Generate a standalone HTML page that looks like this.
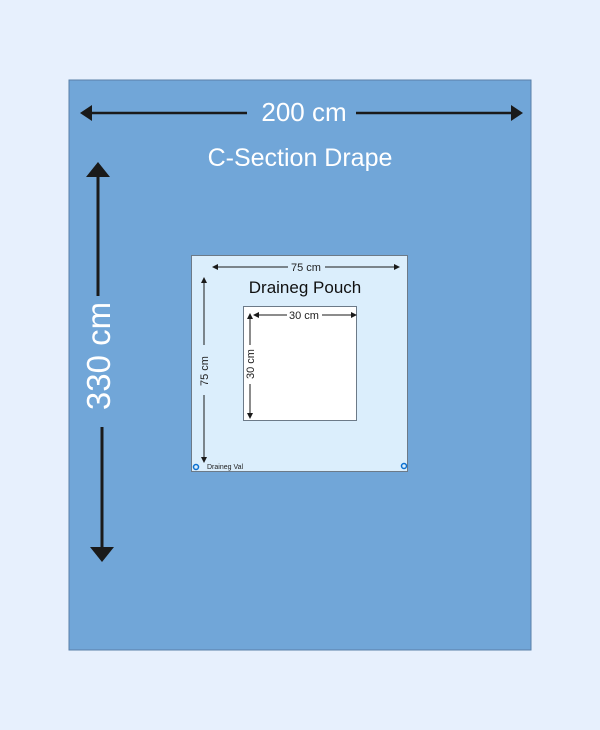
<!DOCTYPE html>
<html><head><meta charset="utf-8"><style>html,body{margin:0;padding:0;background:#e7f0fd;}svg{display:block}</style></head>
<body>
<svg width="600" height="730" viewBox="0 0 600 730" xmlns="http://www.w3.org/2000/svg" font-family="Liberation Sans, sans-serif">
<rect x="0" y="0" width="600" height="730" fill="#e7f0fd"/>
<rect x="69" y="80" width="462" height="570" fill="#71a6d8" stroke="#5a7fa8" stroke-width="1"/>
<line x1="90" y1="113" x2="247" y2="113" stroke="#1a1a1a" stroke-width="2.5"/>
<line x1="356" y1="113" x2="512" y2="113" stroke="#1a1a1a" stroke-width="2.5"/>
<polygon points="80,113 92,105 92,121" fill="#1a1a1a"/>
<polygon points="523,113 511,105 511,121" fill="#1a1a1a"/>
<text x="304" y="121" font-size="26" fill="#fff" text-anchor="middle">200 cm</text>
<text x="300" y="166" font-size="25" fill="#fff" text-anchor="middle">C-Section Drape</text>
<line x1="98" y1="175" x2="98" y2="296" stroke="#1a1a1a" stroke-width="3"/>
<polygon points="98,162 86,177 110,177" fill="#1a1a1a"/>
<line x1="102" y1="427" x2="102" y2="550" stroke="#1a1a1a" stroke-width="3"/>
<polygon points="102,562 90,547 114,547" fill="#1a1a1a"/>
<text transform="translate(110,356) rotate(-90)" font-size="33" fill="#fff" text-anchor="middle">330 cm</text>
<rect x="191.5" y="255.5" width="216" height="216" fill="#dbeefc" stroke="#6c7a88" stroke-width="1"/>
<line x1="216" y1="267" x2="288" y2="267" stroke="#1a1a1a" stroke-width="1"/>
<line x1="325" y1="267" x2="396" y2="267" stroke="#1a1a1a" stroke-width="1"/>
<polygon points="212,267 218,264 218,270" fill="#1a1a1a"/>
<polygon points="400,267 394,264 394,270" fill="#1a1a1a"/>
<text x="306" y="271" font-size="11" fill="#222" text-anchor="middle">75 cm</text>
<text x="305" y="293" font-size="17" fill="#111" text-anchor="middle">Draineg Pouch</text>
<line x1="204" y1="282" x2="204" y2="345" stroke="#1a1a1a" stroke-width="1"/>
<line x1="204" y1="395" x2="204" y2="458" stroke="#1a1a1a" stroke-width="1"/>
<polygon points="204,277 201,283 207,283" fill="#1a1a1a"/>
<polygon points="204,463 201,457 207,457" fill="#1a1a1a"/>
<text transform="translate(208,371) rotate(-90)" font-size="11" fill="#222" text-anchor="middle">75 cm</text>
<rect x="243.5" y="306.5" width="113" height="114" fill="#fff" stroke="#6c7a88" stroke-width="1"/>
<line x1="258" y1="315" x2="287" y2="315" stroke="#1a1a1a" stroke-width="1"/>
<line x1="322" y1="315" x2="352" y2="315" stroke="#1a1a1a" stroke-width="1"/>
<polygon points="253,315 259,312 259,318" fill="#1a1a1a"/>
<polygon points="357,315 351,312 351,318" fill="#1a1a1a"/>
<text x="304" y="319" font-size="11" fill="#222" text-anchor="middle">30 cm</text>
<line x1="250" y1="318" x2="250" y2="345" stroke="#1a1a1a" stroke-width="1"/>
<line x1="250" y1="384" x2="250" y2="414" stroke="#1a1a1a" stroke-width="1"/>
<polygon points="250,313 247,319 253,319" fill="#1a1a1a"/>
<polygon points="250,419 247,413 253,413" fill="#1a1a1a"/>
<text transform="translate(254,364) rotate(-90)" font-size="11" fill="#222" text-anchor="middle">30 cm</text>
<circle cx="196" cy="467" r="2.5" fill="none" stroke="#0a6fd0" stroke-width="1.5"/>
<circle cx="404" cy="466" r="2.5" fill="none" stroke="#0a6fd0" stroke-width="1.5"/>
<text x="207" y="469" font-size="7" fill="#222">Draineg Val</text>
</svg>
</body></html>
